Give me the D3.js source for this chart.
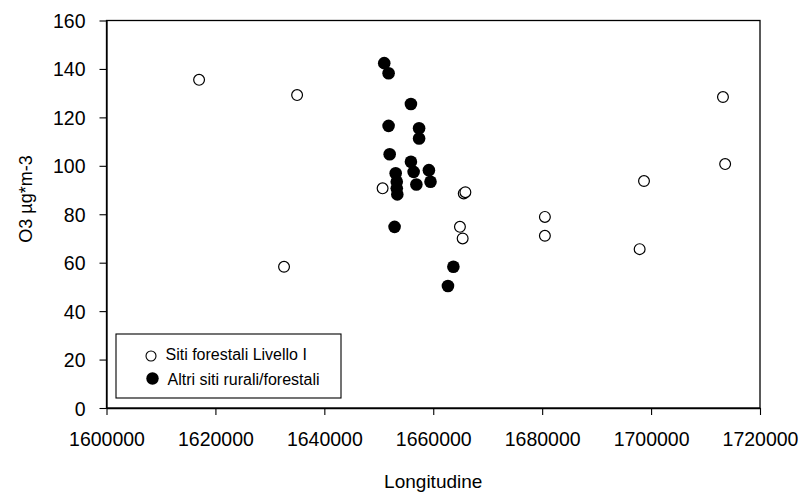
<!DOCTYPE html>
<html>
<head>
<meta charset="utf-8">
<script src="https://cdn.jsdelivr.net/npm/d3@7"></script>
<style>
  html, body { margin: 0; padding: 0; background: #fff; }
  svg { display: block; font-family: "Liberation Sans", Arial, sans-serif; }
</style>
</head>
<body>
<svg id="chart" width="807" height="502"></svg>
<script>
// Longitude (x) and O3 concentration (y) for the two site groups
const forestX = [1617000, 1635000, 1632600, 1650700, 1665600, 1665900, 1664900, 1665400,
                 1680500, 1680500, 1697900, 1698700, 1713600, 1713200];
const forestY = [135.5, 129.2, 58.3, 90.7, 88.6, 89.1, 74.8, 70.0,
                 78.9, 71.1, 65.6, 93.7, 100.7, 128.4];

const ruralX = [1651000, 1651800, 1655900, 1651800, 1657400, 1657400, 1652000, 1655900,
                1656400, 1659200, 1659500, 1656900, 1653100, 1653300, 1653300, 1653400,
                1652900, 1663700, 1662700];
const ruralY = [142.4, 138.2, 125.5, 116.5, 115.5, 111.3, 104.8, 101.7,
                97.5, 98.2, 93.4, 92.3, 96.9, 93.4, 90.7, 88.2,
                74.8, 58.3, 50.4];

const xTicks = [1600000, 1620000, 1640000, 1660000, 1680000, 1700000, 1720000];
const yTicks = [0, 20, 40, 60, 80, 100, 120, 140, 160];
const seriesNames = ["Siti forestali Livello I", "Altri siti rurali/forestali"];

const svg = d3.select("#chart");
const plotLeft = 106.5, plotRight = 760, plotTop = 20.5, plotBottom = 408;

const x = d3.scaleLinear().domain([1600000, 1720000]).range([plotLeft, plotRight]);
const y = d3.scaleLinear().domain([0, 160]).range([plotBottom, plotTop]);

// plot frame
svg.append("rect")
  .attr("x", plotLeft).attr("y", plotTop)
  .attr("width", plotRight - plotLeft).attr("height", plotBottom - plotTop)
  .attr("fill", "none").attr("stroke", "#000").attr("stroke-width", 1.3);

// axes
const xAxis = svg.append("g")
  .attr("transform", `translate(0,${plotBottom})`)
  .call(d3.axisBottom(x).tickValues(xTicks).tickFormat(d3.format("d"))
        .tickSize(7).tickSizeOuter(0).tickPadding(17));
const yAxis = svg.append("g")
  .attr("transform", `translate(${plotLeft},0)`)
  .call(d3.axisLeft(y).tickValues(yTicks).tickFormat(d3.format("d"))
        .tickSize(7).tickSizeOuter(0).tickPadding(14));

[xAxis, yAxis].forEach(g => {
  g.select(".domain").attr("stroke", "#000").attr("stroke-width", 1.3);
  g.selectAll(".tick line").attr("stroke", "#000").attr("stroke-width", 1.1);
  g.selectAll(".tick text").attr("fill", "#000")
    .style("font-size", "19.5px").style("font-family", "'Liberation Sans', Arial, sans-serif");
});
yAxis.selectAll(".tick text").attr("dy", "0.36em");

// axis titles
svg.append("text")
  .attr("x", (plotLeft + plotRight) / 2).attr("y", 488)
  .attr("text-anchor", "middle")
  .style("font-size", "19px")
  .text("Longitudine");

svg.append("text")
  .attr("transform", "translate(32,199) rotate(-90)")
  .attr("text-anchor", "middle")
  .style("font-size", "18px")
  .text("O3 µg*m-3");

// points: open circles first, filled circles on top
svg.append("g").selectAll("circle")
  .data(forestX.map((v, i) => [v, forestY[i]]))
  .join("circle")
  .attr("cx", d => x(d[0])).attr("cy", d => y(d[1]))
  .attr("r", 5.4)
  .attr("fill", "#fff").attr("stroke", "#000").attr("stroke-width", 1.2);

svg.append("g").selectAll("circle")
  .data(ruralX.map((v, i) => [v, ruralY[i]]))
  .join("circle")
  .attr("cx", d => x(d[0])).attr("cy", d => y(d[1]))
  .attr("r", 6.3)
  .attr("fill", "#000");

// legend
const lg = svg.append("g");
lg.append("rect")
  .attr("x", 116).attr("y", 334).attr("width", 225).attr("height", 64)
  .attr("fill", "#fff").attr("stroke", "#000").attr("stroke-width", 1.1);
lg.append("circle").attr("cx", 151).attr("cy", 356).attr("r", 5)
  .attr("fill", "#fff").attr("stroke", "#000").attr("stroke-width", 1.1);
lg.append("circle").attr("cx", 152.5).attr("cy", 378.5).attr("r", 6.2)
  .attr("fill", "#000");
lg.append("text").attr("x", 165.5).attr("y", 359.5)
  .style("font-size", "16px").text(seriesNames[0]);
lg.append("text").attr("x", 167.5).attr("y", 384.5)
  .style("font-size", "16px").text(seriesNames[1]);
</script>
</body>
</html>
